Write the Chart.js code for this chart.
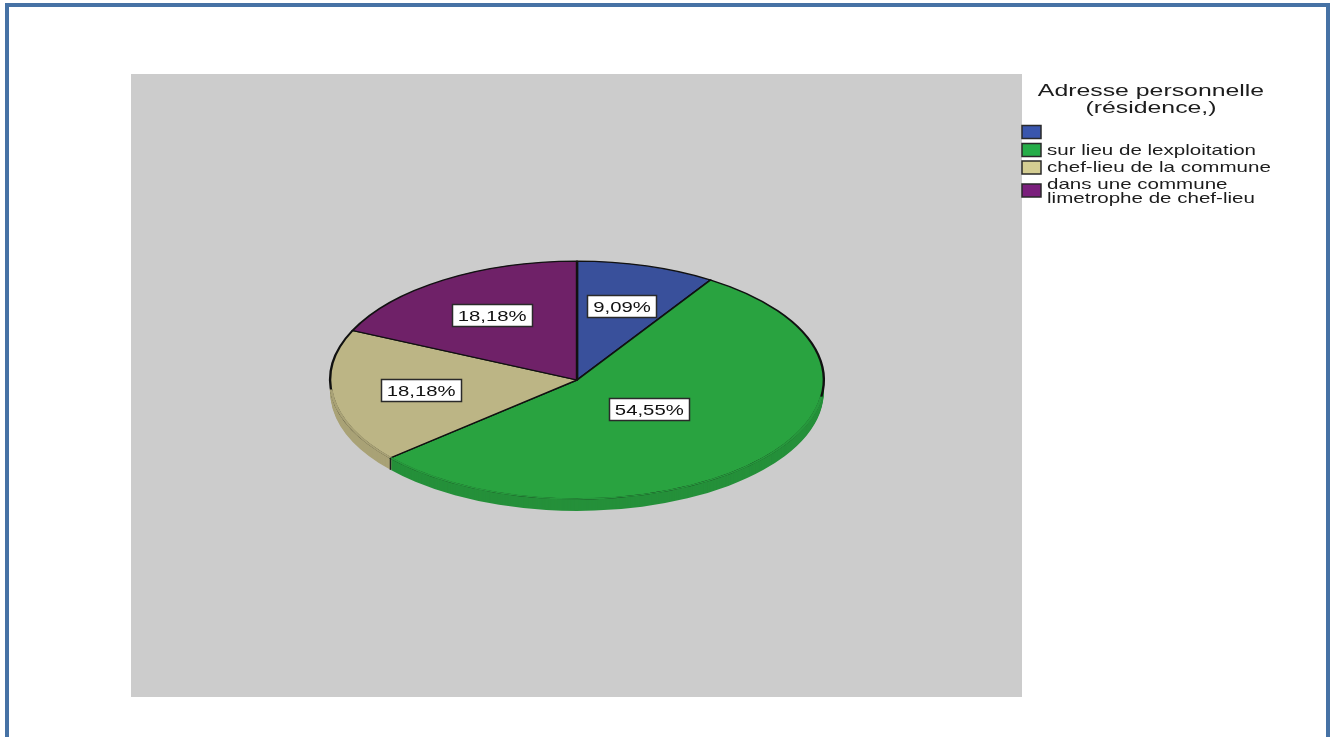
<!DOCTYPE html>
<html lang="fr">
<head>
<meta charset="utf-8">
<title>Adresse personnelle</title>
<script src="https://cdn.jsdelivr.net/npm/chart.js@4"></script>
<style>
html,body{margin:0;padding:0;background:#fff;width:1331px;height:737px;overflow:hidden}
#wrap{position:absolute;left:0;top:0;width:1331px;height:737px}
#frame{position:absolute;left:5px;top:3px;width:1317px;height:740px;border:4px solid #4672a5;box-sizing:content-box;border-bottom:none}
canvas{position:absolute;left:0;top:0;filter:blur(0.55px)}
</style>
</head>
<body>
<div id="wrap">
<canvas id="c" width="1331" height="737"></canvas>
<div id="frame"></div>
</div>
<script>
const categories = ['', 'sur lieu de lexploitation', 'chef-lieu de la commune', ['dans une commune', 'limetrophe de chef-lieu']];
const percents = [9.09, 54.55, 18.18, 18.18];
const sliceColors = ['#39509b', '#29a340', '#bcb585', '#6f2168'];
const sideColors = ['#2e4180', '#25903a', '#a9a276', '#591a53'];
const legendColors = ['#3a56ad', '#25ad48', '#d4cd92', '#7a1f7c'];
const legendTitle = ['Adresse personnelle', '(résidence,)'];

const TILT = 119 / 247, DEPTH = 12;
const FONT = '"Liberation Sans", Arial, sans-serif';

function wideText(ctx, str, x, y, size, sx, align) {
  ctx.save();
  ctx.font = size + 'px ' + FONT;
  ctx.textBaseline = 'middle';
  ctx.textAlign = 'left';
  const w = ctx.measureText(str).width * sx;
  const left = align === 'center' ? x - w / 2 : x;
  ctx.translate(left, y);
  ctx.scale(sx, 1);
  ctx.fillText(str, 0, 0);
  ctx.restore();
  return w;
}

const stage = {
  id: 'stage',
  beforeDraw(chart) {
    const ctx = chart.ctx;
    ctx.save();
    ctx.fillStyle = '#fff';
    ctx.fillRect(0, 0, chart.width, chart.height);
    ctx.fillStyle = '#cccccc';
    ctx.fillRect(131, 74, 891, 623);
    ctx.restore();
  }
};

const tilted = {
  id: 'tilted',
  beforeDatasetsDraw(chart) {
    const ctx = chart.ctx, arcs = chart.getDatasetMeta(0).data;
    const cx = arcs[0].x, cy = arcs[0].y;
    for (let d = DEPTH; d >= 1; d--) {
      ctx.save();
      ctx.translate(cx, cy + d);
      ctx.scale(1, TILT);
      ctx.translate(-cx, -cy);
      arcs.forEach((a, i) => {
        const saved = a.options;
        a.options = Object.assign({}, saved, {backgroundColor: sideColors[i], borderColor: sideColors[i], borderWidth: 0});
        a.draw(ctx);
        a.options = saved;
      });
      ctx.restore();
    }
    ctx.save();
    ctx.translate(cx, cy);
    ctx.scale(1, TILT);
    ctx.translate(-cx, -cy);
  },
  afterDatasetsDraw(chart) {
    const ctx = chart.ctx, arcs = chart.getDatasetMeta(0).data;
    const cx = arcs[0].x, cy = arcs[0].y;
    // softened front rim of the slices facing the viewer
    arcs.forEach((a, i) => {
      const from = Math.max(a.startAngle, 0.14), to = Math.min(a.endAngle, Math.PI - 0.08);
      if (to <= from) return;
      ctx.beginPath();
      ctx.arc(cx, cy, a.outerRadius, from, to);
      ctx.lineWidth = 3;
      ctx.strokeStyle = i === 1 ? '#27993d' : sideColors[i];
      ctx.stroke();
    });
    ctx.restore();
    // seam between the two front slices
    const seam = arcs[1];
    const sxp = cx + seam.outerRadius * Math.cos(seam.endAngle);
    const syp = cy + seam.outerRadius * TILT * Math.sin(seam.endAngle);
    ctx.save();
    ctx.strokeStyle = '#1a1a1a';
    ctx.lineWidth = 1.4;
    ctx.beginPath();
    ctx.moveTo(sxp, syp);
    ctx.lineTo(sxp, syp + DEPTH);
    ctx.stroke();
    ctx.restore();

    // value labels
    const ds = chart.data.datasets[0].data;
    arcs.forEach((a, i) => {
      const mid = (a.startAngle + a.endAngle) / 2;
      const f = ds[i] > 50 ? 0.385 : 0.64;
      const x = cx + a.outerRadius * f * Math.cos(mid);
      const y = cy + a.outerRadius * f * TILT * Math.sin(mid);
      const txt = ds[i].toFixed(2).replace('.', ',') + '%';
      ctx.save();
      ctx.font = '15.5px ' + FONT;
      const w = Math.round(ctx.measureText(txt).width * 1.31 + 12), h = 23;
      const bx = Math.round(x + 0.5 - w / 2), by = Math.round(y - h / 2);
      ctx.fillStyle = '#fff';
      ctx.fillRect(bx, by, w, h);
      ctx.strokeStyle = '#2a2a2a';
      ctx.lineWidth = 1.5;
      ctx.strokeRect(bx + 0.5, by + 0.5, w - 1, h - 1);
      ctx.fillStyle = '#111';
      wideText(ctx, txt, x + 0.5, y + 0.5, 15.5, 1.31, 'center');
      ctx.restore();
    });
  },
  afterDraw(chart) {
    const ctx = chart.ctx;
    ctx.save();
    ctx.fillStyle = '#1c1c1c';
    wideText(ctx, legendTitle[0], 1151, 91, 17, 1.46, 'center');
    wideText(ctx, legendTitle[1], 1151, 108, 17, 1.46, 'center');
    const rows = [132, 150, 167.5, 190.5];
    chart.data.labels.forEach((lab, i) => {
      const y = rows[i];
      ctx.fillStyle = legendColors[i];
      ctx.fillRect(1022, y - 6.5, 19, 13);
      ctx.strokeStyle = '#2a2a2a';
      ctx.lineWidth = 1.5;
      ctx.strokeRect(1022, y - 6.5, 19, 13);
      ctx.fillStyle = '#1c1c1c';
      const lines = Array.isArray(lab) ? lab : [lab];
      const shift = lines.length > 1 ? 1.5 : 0.5;
      lines.forEach((ln, k) => {
        wideText(ctx, ln, 1047, y + shift + (k - (lines.length - 1) / 2) * 14.5, 15, 1.37, 'left');
      });
    });
    ctx.restore();
  }
};

new Chart(document.getElementById('c'), {
  type: 'pie',
  data: {
    labels: categories,
    datasets: [{
      data: percents,
      backgroundColor: sliceColors,
      borderColor: '#111',
      borderWidth: 2.4,
      borderJoinStyle: 'round',
      hoverOffset: 0
    }]
  },
  options: {
    responsive: false,
    animation: false,
    layout: {padding: {left: 329, right: 506, top: 132, bottom: 109}},
    plugins: {legend: {display: false}, tooltip: {enabled: false}}
  },
  plugins: [stage, tilted]
});
</script>
</body>
</html>
